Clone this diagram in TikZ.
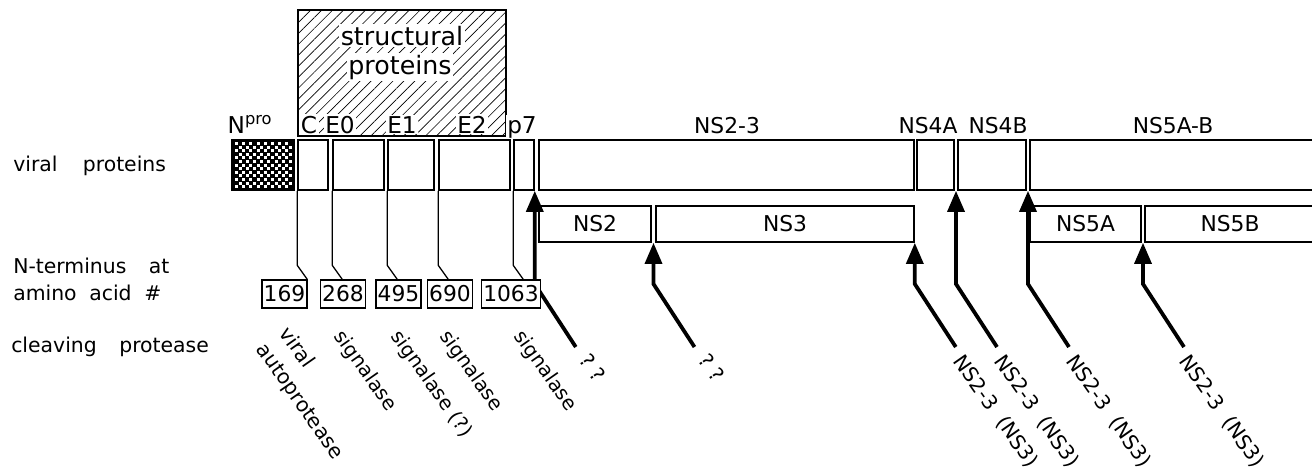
\documentclass[tikz,border=0pt]{standalone}
\usepackage{fontspec}
\setmainfont{DejaVu Sans}
\usetikzlibrary{arrows.meta, calc, patterns.meta}
\newcommand{\protfont}{\fontsize{14.5}{17}\selectfont}
\newcommand{\headfont}{\fontsize{15.5}{18}\selectfont}
\newcommand{\numfont}{\fontsize{15.5}{18}\selectfont}
\tikzset{
  pbox/.style={draw, line width=1.1pt, inner sep=0pt, minimum height=1.25cm, font=\protfont},
  lowbox/.style={draw, line width=1.1pt, inner sep=0pt, minimum height=0.9cm, font=\headfont},
  hatchbox/.style={draw, line width=1pt, pattern={Lines[angle=45, distance=5.5pt, line width=0.45pt]}},
  tag/.style={anchor=base, fill=white, inner sep=1pt, font=\headfont},
  numbox/.style={draw, line width=1pt, fill=white, inner sep=1.2pt, minimum height=0.7cm, font=\numfont},
  rowlabel/.style={anchor=base west, inner sep=0pt, font=\protfont},
  cleaver/.style={anchor=base west, rotate=-55, inner sep=1pt, font=\protfont},
  lead/.style={line width=0.9pt},
  cut/.style={{Triangle[length=15pt, width=12pt]}-, line width=2.7pt},
}

\begin{document}
\begin{tikzpicture}[x=0.025cm, y=-0.025cm]
    \useasboundingbox (0,0) rectangle (1312,474);
    \node[hatchbox, minimum width=5.2cm, minimum height=3.15cm] (struct) at (402,73) {};
    \node[tag, font=\fontsize{18}{20}\selectfont] (str1) at (402,45) {structural};
    \node[tag, font=\fontsize{18}{20}\selectfont] (str2) at (400,74) {proteins};
    \node[tag, font=\fontsize{16.5}{18}\selectfont] (lnpro) at (250,133) {N\textsuperscript{pro}};
    \node[tag, font=\fontsize{16.5}{18}\selectfont] (lc)    at (309,133) {C};
    \node[tag, font=\fontsize{16.5}{18}\selectfont] (le0)   at (340,133) {E0};
    \node[tag, font=\fontsize{16.5}{18}\selectfont] (le1)   at (402,133) {E1};
    \node[tag, font=\fontsize{16.5}{18}\selectfont] (le2)   at (472,133) {E2};
    \node[tag, font=\fontsize{16.5}{18}\selectfont] (lp7)   at (522,133) {p7};
    \node[tag] (lns23) at (727,133) {NS2-3};
    \node[tag] (lns4a) at (928,133) {NS4A};
    \node[tag] (lns4b) at (998,133) {NS4B};
    \node[tag] (lns5)  at (1173,133) {NS5A-B};

    \node[pbox, fill=black, minimum width=1.55cm] (npro) at (263,165) {};
    \foreach \i in {0,...,12}
      \foreach \j in {0,...,7}
        \fill[white] ({235+7.2*\j+3.6*mod(\i,2)},{142+3.6*\i}) rectangle ++(3,3);
    \node[pbox, minimum width=0.75cm]  (c)     at (313,165)    {};
    \node[pbox, minimum width=1.275cm] (e0)    at (358.5,165)  {};
    \node[pbox, minimum width=1.15cm]  (e1)    at (411,165)    {};
    \node[pbox, minimum width=1.775cm] (e2)    at (474.5,165)  {};
    \node[pbox, minimum width=0.5cm]   (p7)    at (524,165)    {};
    \node[pbox, minimum width=9.375cm] (ns23)  at (726.5,165)  {};
    \node[pbox, minimum width=0.925cm] (ns4a)  at (935.5,165)  {};
    \node[pbox, minimum width=1.7cm]   (ns4b)  at (992,165)    {};
    \node[pbox, minimum width=7.15cm]  (ns5ab) at (1173,165)   {};

    \node[lowbox, minimum width=2.8cm]   (ns2)  at (595,224)    {NS2};
    \node[lowbox, minimum width=6.45cm]  (ns3)  at (785,224)    {NS3};
    \node[lowbox, minimum width=2.775cm] (ns5a) at (1085.5,224) {NS5A};
    \node[lowbox, minimum width=4.25cm]  (ns5b) at (1230,224)   {NS5B};

    \node[rowlabel] (rprot) at (13,171) {viral\hspace{18pt}proteins};
    \node[rowlabel] (rnt1)  at (13,273) {N-terminus\hspace{16pt}at};
    \node[rowlabel] (rnt2)  at (13,300) {amino\hspace{9pt}acid\hspace{9pt}\#};
    \node[rowlabel] (rcut)  at (11,352) {cleaving\hspace{16pt}protease};

    \coordinate (bend) at (0,284);
    \coordinate (t1) at (p7.south east);
    \coordinate (t2) at ($(ns2.south east)!.5!(ns3.south west)$);
    \coordinate (t3) at (ns3.south east);
    \coordinate (t4) at ($(ns4a.south east)!.5!(ns4b.south west)$);
    \coordinate (t5) at ($(ns4b.south east)!.5!(ns5ab.south west)$);
    \coordinate (t6) at ($(ns5a.south east)!.5!(ns5b.south west)$);
    \foreach \k in {1,...,6}
      \draw[cut] (t\k) -- (t\k |- bend) -- ++(41,63) coordinate (k\k);

    \node[numbox] (n169)  at (284.5,294) {169};
    \node[numbox] (n268)  at (343,294)   {268};
    \node[numbox] (n495)  at (398.5,294) {495};
    \node[numbox] (n690)  at (450,294)   {690};
    \node[numbox] (n1063) at (511,294)   {1063};
    \foreach \p/\n in {c/n169, e0/n268, e1/n495, e2/n690, p7/n1063}
      \draw[lead] (\p.south west) -- ($(\p.south west |- \n.north)+(0,-14)$) -- ($(\p.south west |- \n.north)+(10,0)$);

    \node[cleaver, anchor=north west, align=left, font=\fontsize{14.5}{20}\selectfont] (s169) at (292,322) {viral\\autoprotease};
    \node[cleaver, font=\fontsize{14}{17}\selectfont] (s268)  at (333,335) {signalase};
    \node[cleaver, font=\fontsize{14}{17}\selectfont] (s495)  at (390,335) {signalase\ (?)};
    \node[cleaver, font=\fontsize{14}{17}\selectfont] (s690)  at (439,335) {signalase};
    \node[cleaver, font=\fontsize{14}{17}\selectfont] (s1063) at (513,335) {signalase};
    \node[cleaver] (q1) at ([shift={(2,12)}]k1)  {?\ ?};
    \node[cleaver] (q2) at ([shift={(2,12)}]k2)  {?\ ?};
    \node[cleaver] (q3) at ([shift={(-4,13)}]k3) {NS2-3\ \ (NS3)};
    \node[cleaver] (q4) at ([shift={(-4,13)}]k4) {NS2-3\ \ (NS3)};
    \node[cleaver] (q5) at ([shift={(-4,13)}]k5) {NS2-3\ \ (NS3)};
    \node[cleaver] (q6) at ([shift={(-6,13)}]k6) {NS2-3\ \ (NS3)};
  \end{tikzpicture}
\end{document}
